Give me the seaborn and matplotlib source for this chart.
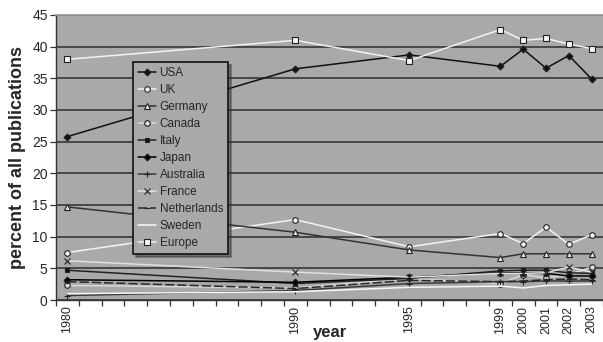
import matplotlib
matplotlib.use("Agg")
import matplotlib.pyplot as plt
import seaborn as sns
import pandas as pd

sns.set_theme(style="white")
plt.rcParams["font.family"] = ["Liberation Sans", "DejaVu Sans"]

years = [1980, 1990, 1995, 1999, 2000, 2001, 2002, 2003]
usa = [25.8, 36.5, 38.7, 36.9, 39.6, 36.6, 38.6, 34.9]
uk = [7.5, 12.7, 8.4, 10.5, 8.9, 11.5, 8.8, 10.3]
germany = [14.7, 10.7, 7.9, 6.7, 7.3, 7.3, 7.3, 7.3]
canada = [2.3, 1.9, 3.4, 2.6, 4.0, 3.5, 4.0, 5.2]
italy = [4.7, 2.6, 3.4, 4.6, 4.7, 4.7, 4.3, 4.2]
japan = [3.2, 2.8, 3.6, 4.3, 4.3, 4.2, 3.8, 3.8]
australia = [0.7, 1.5, 2.6, 2.9, 2.9, 3.0, 3.0, 3.0]
france = [6.2, 4.4, 3.6, 4.2, 4.2, 4.3, 5.2, 4.4]
netherlands = [2.9, 1.8, 3.1, 2.9, 3.0, 3.2, 3.3, 3.2]
sweden = [1.0, 1.3, 2.0, 2.2, 1.9, 2.3, 2.4, 2.5]
europe = [38.0, 41.0, 37.8, 42.7, 41.0, 41.3, 40.4, 39.7]

series = {
    "USA": usa, "UK": uk, "Germany": germany, "Canada": canada,
    "Italy": italy, "Japan": japan, "Australia": australia,
    "France": france, "Netherlands": netherlands, "Sweden": sweden,
    "Europe": europe,
}

# line colour, marker, marker face, marker size, dash pattern
styles = {
    "USA": ("#111111", "D", "#111111", 3.5, ""),
    "UK": ("#f2f2f2", "o", "#f4f4f4", 4.0, ""),
    "Germany": ("#333333", "^", "#e8e8e8", 4.5, ""),
    "Canada": ("#d8d8d8", "o", "#dddddd", 4.0, ""),
    "Italy": ("#222222", "s", "#111111", 3.0, ""),
    "Japan": ("#000000", "D", "#000000", 3.5, ""),
    "Australia": ("#3a3a3a", "+", "#3a3a3a", 5.0, ""),
    "France": ("#e0e0e0", "x", "#555555", 4.0, ""),
    "Netherlands": ("#2a2a2a", "_", "#dddddd", 5.0, (6, 2)),
    "Sweden": ("#f7f7f7", "", "#f7f7f7", 0.0, ""),
    "Europe": ("#f2f2f2", "s", "#f4f4f4", 4.0, ""),
}

df = pd.DataFrame(
    [(y, name, v) for name, vals in series.items() for y, v in zip(years, vals)],
    columns=["year", "country", "share"],
)

fig = plt.figure(figsize=(6.03, 3.42), dpi=100)
ax = fig.add_axes([56 / 603, 1 - 300 / 342, 547 / 603, 285 / 342])
ax.set_facecolor("#a9a9a9")

for name in series:
    color, marker, face, ms, dash = styles[name]
    sub = df[df["country"] == name]
    kw = dict(color=color, linewidth=1.1, marker=marker if marker else None,
              markersize=ms, markerfacecolor=face, markeredgecolor="#222222",
              markeredgewidth=0.8, label=name)
    if dash:
        kw["dashes"] = dash
    sns.lineplot(data=sub, x="year", y="share", ax=ax, **kw)

ax.set_xlim(1979.5, 2003.5)
ax.set_ylim(0, 45)
ax.set_yticks(range(0, 46, 5))
ax.yaxis.grid(True, color="#2e2e2e", linewidth=1.1)
ax.set_axisbelow(True)

ax.set_xticks(years)
ax.set_xticklabels([str(y) for y in years], rotation=90, fontsize=9)
ax.set_xticks([1979.5 + k for k in range(25)], minor=True)
ax.tick_params(axis="x", which="major", length=0, pad=4)
ax.tick_params(axis="x", which="minor", direction="out", length=4, width=0.9, color="#333333", bottom=True)
ax.tick_params(axis="y", direction="out", length=4, width=0.9, color="#333333", left=True, labelsize=10, pad=2)

for side in ["left", "bottom"]:
    ax.spines[side].set_color("#333333")
    ax.spines[side].set_linewidth(1.0)
ax.spines["top"].set_color("#999999")
ax.spines["right"].set_visible(False)

ax.set_xlabel("year", fontsize=12, fontweight="bold", labelpad=-6)
ax.set_ylabel("percent of all publications", fontsize=13, fontweight="bold", labelpad=4)

leg = ax.legend(loc="upper left", bbox_to_anchor=((133 - 56) / 547, (300 - 62) / 285),
                borderaxespad=0, fontsize=8.5, frameon=True, fancybox=False,
                shadow=True, handlelength=1.5, labelspacing=0.42, borderpad=0.45,
                handletextpad=0.3)
leg.get_frame().set_facecolor("#a9a9a9")
leg.get_frame().set_edgecolor("#111111")
leg.get_frame().set_linewidth(1.2)
leg.get_frame().set_alpha(1)

fig.savefig("out.png", dpi=100)
